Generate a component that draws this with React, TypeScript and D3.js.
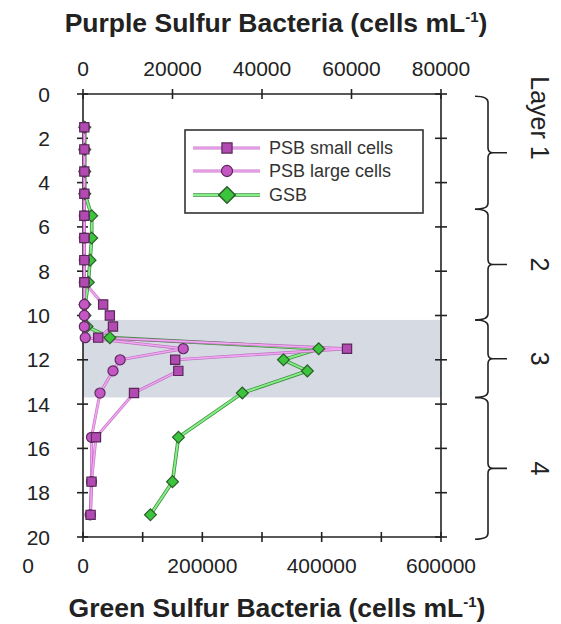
import React from "react";
import * as d3 from "d3";

// depth (m) of each sample
const depths = [1.5, 2.5, 3.5, 4.5, 5.5, 6.5, 7.5, 8.5, 9.5, 10, 10.5, 11, 11.5, 12, 12.5, 13.5, 15.5, 17.5, 19];
// cells per mL
const psbSmall = [300, 300, 300, 300, 300, 300, 300, 300, 4500, 6000, 6700, 3400, 59000, 20600, 21300, 11400, 2900, 1900, 1700];
const psbLarge = [300, 300, 300, 300, 300, 300, 300, 300, 300, 300, 300, 500, 22400, 8300, 6700, 3800, 1900, 1900, 1600];
const gsb = [3000, 3000, 3000, 3000, 14600, 14600, 11800, 9000, 3400, 3400, 6700, 45000, 395000, 336000, 376000, 267000, 160000, 150000, 113000];

const depthTicks = [0, 2, 4, 6, 8, 10, 12, 14, 16, 18, 20];
const psbTicks = [0, 20000, 40000, 60000, 80000];
const gsbTicks = [0, 100000, 200000, 300000, 400000, 500000, 600000];
const gsbLabels = [0, 200000, 400000, 600000];

const band = [10.2, 13.7];
const layerEdges = [0.1, 5.2, 10.2, 13.7, 20.1];
const layerNames = ["Layer 1", "2", "3", "4"];

const legendItems = ["PSB small cells", "PSB large cells", "GSB"];

const font = "'Liberation Sans', Arial, Helvetica, sans-serif";
const ink = "#222";

export default function App() {
  const W = 561, H = 624;
  const left = 83, right = 441, top = 94, bottom = 537;

  const y = d3.scaleLinear().domain([0, 20]).range([top, bottom]);
  const xP = d3.scaleLinear().domain([0, 80000]).range([left, right]);
  const xG = d3.scaleLinear().domain([0, 600000]).range([left, right]);

  const lineP = d3.line<[number, number]>().x(d => xP(d[0])).y(d => y(d[1]));
  const lineG = d3.line<[number, number]>().x(d => xG(d[0])).y(d => y(d[1]));

  const small: [number, number][] = psbSmall.map((v, i) => [v, depths[i]]);
  const large: [number, number][] = psbLarge.map((v, i) => [v, depths[i]]);
  const green: [number, number][] = gsb.map((v, i) => [v, depths[i]]);

  const square = d3.symbol(d3.symbolSquare, 85)();
  const circle = d3.symbol(d3.symbolCircle, 80)();
  const diamond = d3.symbol(d3.symbolSquare, 70)();

  const pinkOuter = "#b55ab5", pinkInner = "#f3a6f3";
  const greenOuter = "#3f8f3f", greenInner = "#86ee86";

  const brace = (a: number, b: number) => {
    const ya = y(a), yb = y(b), ym = (ya + yb) / 2;
    const vx = 488;
    return `M475,${ya} Q${vx},${ya} ${vx},${ya + 6} V${ym - 5} Q${vx},${ym} ${vx + 5},${ym} H507 ` +
      `M${vx + 5},${ym} Q${vx},${ym} ${vx},${ym + 5} V${yb - 6} Q${vx},${yb} 475,${yb}`;
  };

  const legY = [148, 171, 195];

  return (
    <svg width={W} height={H} style={{ position: "absolute", left: 0, top: 0, background: "#fff" }} fontFamily={font}>
      {/* stratified band */}
      <rect x={left} y={y(band[0])} width={right - left} height={y(band[1]) - y(band[0])} fill="#d5dae3" />

      {/* axes frame */}
      <g stroke={ink} strokeWidth={1.6}>
        <line x1={left} x2={right} y1={top} y2={top} />
        <line x1={left} x2={right} y1={bottom} y2={bottom} />
        <line x1={left} x2={left} y1={top} y2={bottom} />
        <line x1={right} x2={right} y1={top} y2={bottom} />
        {psbTicks.map(t => <line key={"pt" + t} x1={xP(t)} x2={xP(t)} y1={top - 5} y2={top + 5} />)}
        {gsbTicks.map(t => <line key={"gt" + t} x1={xG(t)} x2={xG(t)} y1={bottom - 5} y2={bottom + 5} />)}
        {depthTicks.map(t => <line key={"l" + t} x1={left - 6} x2={left + 5} y1={y(t)} y2={y(t)} />)}
        {depthTicks.map(t => <line key={"r" + t} x1={right - 6} x2={right + 6} y1={y(t)} y2={y(t)} />)}
      </g>

      {/* tick labels */}
      <g fill={ink} fontSize={21}>
        {psbTicks.map(t => <text key={"ptl" + t} x={xP(t)} y={76} textAnchor="middle">{t}</text>)}
        {gsbLabels.map(t => <text key={"gtl" + t} x={xG(t)} y={573} textAnchor="middle">{t}</text>)}
        <text x={28} y={573} textAnchor="middle">0</text>
        {depthTicks.map(t => <text key={"dl" + t} x={50} y={y(t)} dy="0.36em" textAnchor="end">{t}</text>)}
      </g>

      {/* titles */}
      <text x={276} y={32} textAnchor="middle" fontSize={26.5} fontWeight="bold" fill={ink}>
        Purple Sulfur Bacteria (cells mL<tspan dy={-10} fontSize={15}>-1</tspan><tspan dy={10}>)</tspan>
      </text>
      <text x={277} y={617} textAnchor="middle" fontSize={26.5} fontWeight="bold" fill={ink}>
        Green Sulfur Bacteria (cells mL<tspan dy={-10} fontSize={15}>-1</tspan><tspan dy={10}>)</tspan>
      </text>

      {/* series lines */}
      <path d={lineG(green) ?? ""} fill="none" stroke={greenOuter} strokeWidth={3.6} />
      <path d={lineG(green) ?? ""} fill="none" stroke={greenInner} strokeWidth={2} />
      {[large, small].map((s, i) => (
        <g key={"pl" + i}>
          <path d={lineP(s) ?? ""} fill="none" stroke={pinkOuter} strokeWidth={3} strokeOpacity={0.8} />
          <path d={lineP(s) ?? ""} fill="none" stroke={pinkInner} strokeWidth={1.6} />
        </g>
      ))}

      {/* markers */}
      {green.map((d, i) => (
        <path key={"gm" + i} d={diamond} transform={`translate(${xG(d[0])},${y(d[1])}) rotate(45)`}
          fill="#3cc43c" stroke="#2b5e2b" strokeWidth={1.2} />
      ))}
      {large.map((d, i) => (
        <path key={"lm" + i} d={circle} transform={`translate(${xP(d[0])},${y(d[1])})`}
          fill="#c457c4" stroke="#5e2a5e" strokeWidth={1.2} />
      ))}
      {small.map((d, i) => (
        <path key={"sm" + i} d={square} transform={`translate(${xP(d[0])},${y(d[1])})`}
          fill="#b14bb1" stroke="#5a285a" strokeWidth={1.2} />
      ))}

      {/* legend */}
      <rect x={185} y={130} width={238} height={83} fill="#fff" stroke="#333" strokeWidth={1.6} />
      {legendItems.map((name, i) => {
        const isG = i === 2;
        return (
          <g key={name} transform={`translate(0,${legY[i]})`}>
            <line x1={193} x2={260} y1={0} y2={0} stroke={isG ? greenOuter : pinkOuter} strokeWidth={isG ? 3.6 : 3} strokeOpacity={isG ? 1 : 0.8} />
            <line x1={193} x2={260} y1={0} y2={0} stroke={isG ? greenInner : pinkInner} strokeWidth={isG ? 2 : 1.6} />
            <path d={i === 0 ? square : i === 1 ? circle : diamond}
              transform={`translate(227,0) ${isG ? "rotate(45) scale(1.4)" : "scale(1.1)"}`}
              fill={i === 0 ? "#b14bb1" : i === 1 ? "#c457c4" : "#3cc43c"}
              stroke={isG ? "#2b5e2b" : "#5a285a"} strokeWidth={1.1} />
            <text x={269} y={0} dy="0.36em" fontSize={18} fill="#333">{name}</text>
          </g>
        );
      })}

      {/* layer braces */}
      {layerNames.map((name, i) => {
        const a = layerEdges[i], b = layerEdges[i + 1];
        const ym = (y(a) + y(b)) / 2;
        return (
          <g key={name}>
            <path d={brace(a, b)} fill="none" stroke={ink} strokeWidth={1.6} />
            <text transform={`translate(540,${i === 0 ? ym + 7 : ym}) rotate(90)`} textAnchor={i === 0 ? "end" : "middle"}
              dy="0.36em" fontSize={25} fill={ink}>{name}</text>
          </g>
        );
      })}
    </svg>
  );
}
